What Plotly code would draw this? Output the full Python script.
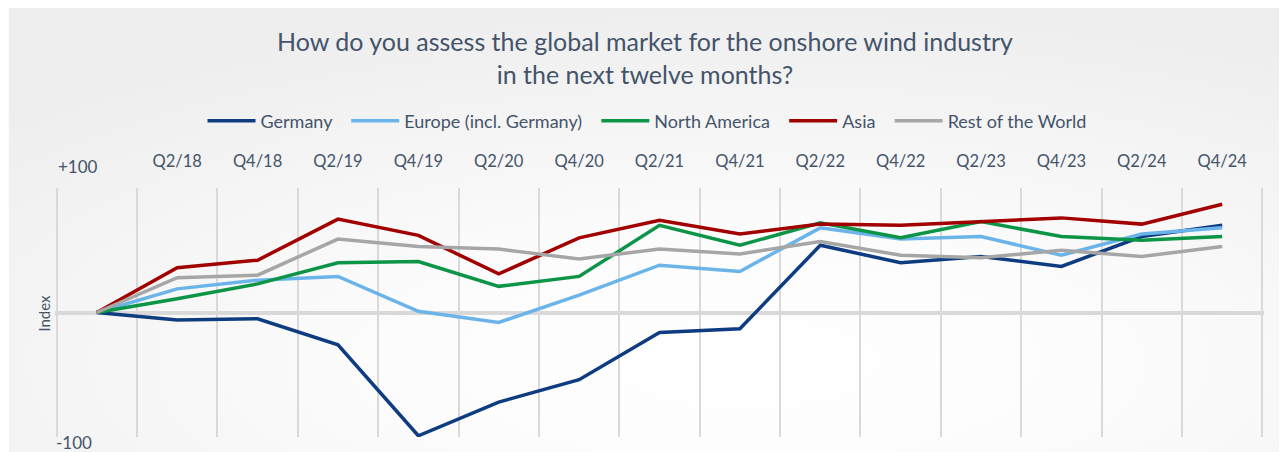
import base64
import plotly.graph_objects as go

periods = ["Q4/17", "Q2/18", "Q4/18", "Q2/19", "Q4/19", "Q2/20", "Q4/20", "Q2/21",
           "Q4/21", "Q2/22", "Q4/22", "Q2/23", "Q4/23", "Q2/24", "Q4/24"]
tick_labels = ["", "Q2/18", "Q4/18", "Q2/19", "Q4/19", "Q2/20", "Q4/20", "Q2/21",
               "Q4/21", "Q2/22", "Q4/22", "Q2/23", "Q4/23", "Q2/24", "Q4/24"]

germany = [0, -6, -5, -26, -99, -72, -54, -16, -13, 54, 40, 45, 37, 61, 70]
europe = [0, 19, 26, 29, 1, -8, 14, 38, 33, 68, 59, 61, 46, 63, 68]
north_america = [0, 11, 23, 40, 41, 21, 29, 70, 54, 72, 60, 73, 61, 58, 61]
asia = [0, 36, 42, 75, 62, 31, 60, 74, 63, 71, 70, 73, 76, 71, 87]
rest_of_world = [0, 28, 30, 59, 53, 51, 43, 51, 47, 57, 46, 44, 50, 45, 53]

series_names = ["Germany", "Europe (incl. Germany)", "North America", "Asia", "Rest of the World"]
series_values = [germany, europe, north_america, asia, rest_of_world]
series_colors = ["#0E3C80", "#6BB4E9", "#0C9546", "#A20000", "#A6A6A6"]

FONT = "Lato"
TXT = "#44546A"
PAD = "\u00a0\u00a0"  # small spacing after legend labels

xpos = list(range(len(periods)))

fig = go.Figure()
for i, (name, vals, color) in enumerate(zip(series_names, series_values, series_colors)):
    label = name + (PAD if i < len(series_names) - 1 else "")
    fig.add_trace(go.Scatter(
        x=xpos, y=vals, name=label, mode="lines",
        line=dict(color=color, width=3.5),
        hovertext=periods,
    ))

# page is offset by the browser's default 8px body margin
W, H = 1279, 444
EXT = 0.02  # small range extension so the edge gridlines are drawn
unit = 1205 / 15
L = 49 - EXT * unit
R = W - (1254 + EXT * unit)
T, B = 180, 15
pw, ph = W - L - R, H - T - B


def px_x(x):
    return (x - L) / pw


def px_y(y):
    return (H - B - y) / ph


# subtle background gradient (style only)
svg = """<svg xmlns='http://www.w3.org/2000/svg' width='1273' height='448' viewBox='0 0 1273 448' preserveAspectRatio='none'>
<defs><radialGradient id='g' cx='0.58' cy='0.8' r='0.8'>
<stop offset='0' stop-color='#FFFFFF'/><stop offset='0.35' stop-color='#FCFCFC'/><stop offset='1' stop-color='#EEEEEE'/></radialGradient></defs>
<rect width='1273' height='448' fill='url(#g)'/></svg>"""
src = "data:image/svg+xml;base64," + base64.b64encode(svg.encode()).decode()

fig.add_layout_image(dict(
    source=src, xref="paper", yref="paper",
    x=px_x(1), y=px_y(-4),
    sizex=1273 / pw, sizey=448 / ph,
    xanchor="left", yanchor="top", sizing="stretch", layer="below",
))

fig.update_layout(
    width=W, height=H,
    margin=dict(l=L, r=R, t=T, b=B, pad=0),
    paper_bgcolor="white", plot_bgcolor="rgba(0,0,0,0)",
    font=dict(family=FONT, color=TXT, size=17),
    title=dict(
        text="How do you assess the global market for the onshore wind industry<br>in the next twelve months?",
        x=637 / W, xref="container", xanchor="center", y=1 - 43 / H, yanchor="middle",
        font=dict(size=25, color=TXT, family=FONT),
    ),
    legend=dict(
        orientation="h", x=639 / W, xanchor="center", xref="container",
        y=1 - 113 / H, yref="container", yanchor="middle",
        font=dict(size=18, color=TXT), bgcolor="rgba(0,0,0,0)",
        itemwidth=48,
    ),
    showlegend=True,
)

fig.update_xaxes(
    range=[-0.5 - EXT, len(periods) - 0.5 + EXT], side="top",
    tickmode="array", tickvals=xpos, ticktext=tick_labels,
    showgrid=False, zeroline=False, showline=False, ticks="",
    ticklabelstandoff=17,
    tickfont=dict(size=16.5, color=TXT),
    minor=dict(tickmode="linear", tick0=-0.5, dtick=1, showgrid=True,
               gridcolor="#D9D9D9", gridwidth=1.5, ticks=""),
)
fig.update_yaxes(
    range=[-100, 100], showgrid=False, showticklabels=False,
    zeroline=True, zerolinecolor="#D9D9D9", zerolinewidth=3.5, showline=False,
)

fig.add_annotation(text="+100", xref="paper", yref="paper", x=px_x(48),
                   y=px_y(158), xanchor="left", yanchor="middle",
                   showarrow=False, font=dict(size=17, color=TXT))
fig.add_annotation(text="-100", xref="paper", yref="paper", x=px_x(46),
                   y=px_y(434), xanchor="left", yanchor="middle",
                   showarrow=False, font=dict(size=17, color=TXT))
fig.add_annotation(text="Index", xref="paper", yref="paper", x=px_x(36),
                   y=px_y(305), xanchor="center", yanchor="middle",
                   textangle=-90, showarrow=False, font=dict(size=15, color=TXT))

fig.write_html("out.html")
